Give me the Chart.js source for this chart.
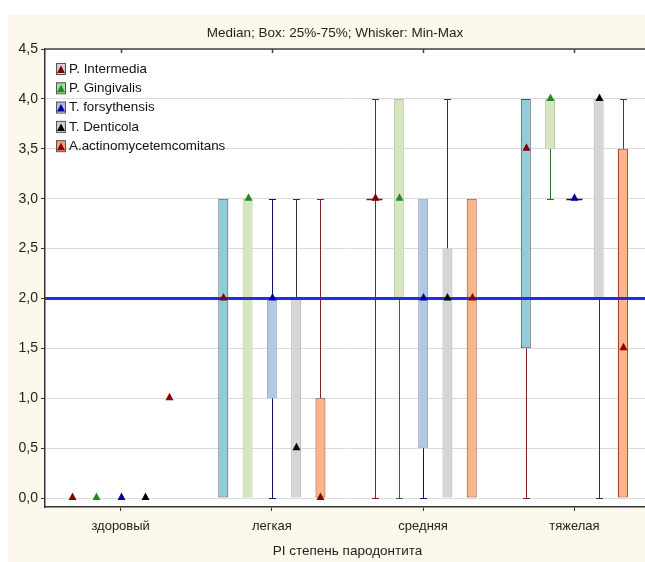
<!DOCTYPE html>
<html>
<head>
<meta charset="utf-8">
<script src="https://cdn.jsdelivr.net/npm/chart.js@4.4.1/dist/chart.umd.min.js"></script>
<style>
    html, body { margin: 0; padding: 0; background: #fff; overflow: hidden; }
    #wrap { position: relative; width: 650px; height: 562px; }
</style>
</head>
<body>
<div id="wrap"><canvas id="box-chart" width="650" height="562"></canvas></div>
<script>
// categories and series
const categories = ['здоровый', 'легкая', 'средняя', 'тяжелая'];
const seriesNames = ['P. Intermedia', 'P. Gingivalis', 'T. forsythensis', 'T. Denticola', 'A.actinomycetemcomitans'];

// P. Intermedia
const piMed = [0, 2, 3, 3.5];
const piQ1  = [0, 0, 3, 1.5];
const piQ3  = [0, 3, 3, 4];
const piMin = [0, 0, 0, 0];
const piMax = [0, 3, 4, 4];
// P. Gingivalis
const pgMed = [0, 3, 3, 4];
const pgQ1  = [0, 0, 2, 3.5];
const pgQ3  = [0, 3, 4, 4];
const pgMin = [0, 0, 0, 3];
const pgMax = [0, 3, 4, 4];
// T. forsythensis
const tfMed = [0, 2, 2, 3];
const tfQ1  = [0, 1, 0.5, 3];
const tfQ3  = [0, 2, 3, 3];
const tfMin = [0, 0, 0, 3];
const tfMax = [0, 3, 3, 3];
// T. Denticola
const tdMed = [0, 0.5, 2, 4];
const tdQ1  = [0, 0, 0, 2];
const tdQ3  = [0, 2, 2.5, 4];
const tdMin = [0, 0, 0, 0];
const tdMax = [0, 3, 4, 4];
// A.actinomycetemcomitans
const aaMed = [1, 0, 2, 1.5];
const aaQ1  = [1, 0, 0, 0];
const aaQ3  = [1, 1, 3, 3.5];
const aaMin = [1, 0, 0, 0];
const aaMax = [1, 3, 3, 4];

const refLine = 2.0;

const FONT = 'Liberation Sans, Arial, sans-serif';
const boxFill    = ['#8ecedb', '#d6e4bf', '#b4c7e2', '#d5d5d5', '#fbb58a'];
const boxBorder  = ['#5e4848', '#b3c79a', '#8ea6ca', '#b3b3b3', '#9c3a1c'];
const whiskerCol = ['#7b1f1f', '#2e6b2e', '#101060', '#333333', '#7a2626'];
const medianCol  = ['#800000', '#1e8c1e', '#0000a0', '#000000', '#8b0000'];
const legendFill = ['#d8ccd2', '#a9dca0', '#a9bde8', '#d0d0d0', '#f5a07a'];

const stats = [
    {med: piMed, q1: piQ1, q3: piQ3, min: piMin, max: piMax},
    {med: pgMed, q1: pgQ1, q3: pgQ3, min: pgMin, max: pgMax},
    {med: tfMed, q1: tfQ1, q3: tfQ3, min: tfMin, max: tfMax},
    {med: tdMed, q1: tdQ1, q3: tdQ3, min: tdMin, max: tdMax},
    {med: aaMed, q1: aaQ1, q3: aaQ3, min: aaMin, max: aaMax}
];

const datasets = stats.map((s, i) => ({
    label: seriesNames[i],
    data: s.q1.map((v, j) => [v, s.q3[j]]),
    backgroundColor: boxFill[i],
    borderColor: boxBorder[i],
    borderWidth: c => (s.q1[c.dataIndex] === s.q3[c.dataIndex] ? 0 : 1),
    borderSkipped: false,
    barPercentage: 0.41,
    categoryPercentage: 0.803
}));

function triangle(ctx, x, y, color){
    ctx.fillStyle = color;
    ctx.beginPath();
    ctx.moveTo(x, y - 5.5);
    ctx.lineTo(x + 4, y + 2);
    ctx.lineTo(x - 4, y + 2);
    ctx.closePath();
    ctx.fill();
}

const boxExtras = {
    id: 'boxExtras',
    beforeDraw(chart){
        const ctx = chart.ctx, a = chart.chartArea;
        ctx.save();
        ctx.fillStyle = '#fcf9ec';
        ctx.fillRect(8, 15, chart.width, chart.height);
        ctx.fillStyle = '#ffffff';
        ctx.fillRect(a.left, a.top, a.right - a.left, a.bottom - a.top);
        ctx.restore();
    },
    beforeDatasetsDraw(chart){
        // whiskers
        const ctx = chart.ctx, y = chart.scales.y;
        ctx.save();
        ctx.lineWidth = 1;
        stats.forEach((s, i) => {
            const meta = chart.getDatasetMeta(i);
            meta.data.forEach((bar, j) => {
                const x = Math.round(bar.x) + 0.5;
                ctx.strokeStyle = whiskerCol[i];
                ctx.beginPath();
                if (s.min[j] < s.q1[j]){
                    const y0 = Math.round(y.getPixelForValue(s.min[j])) + 0.5;
                    ctx.moveTo(x, y0); ctx.lineTo(x, y.getPixelForValue(s.q1[j]));
                    ctx.moveTo(x - 3.5, y0); ctx.lineTo(x + 3.5, y0);
                }
                if (s.max[j] > s.q3[j]){
                    const y1 = Math.round(y.getPixelForValue(s.max[j])) + 0.5;
                    ctx.moveTo(x, y1); ctx.lineTo(x, y.getPixelForValue(s.q3[j]));
                    ctx.moveTo(x - 3.5, y1); ctx.lineTo(x + 3.5, y1);
                }
                ctx.stroke();
            });
        });
        ctx.restore();
    },
    afterDatasetsDraw(chart){
        const ctx = chart.ctx, a = chart.chartArea, y = chart.scales.y, xs = chart.scales.x;
        ctx.save();
        // flat boxes drawn as a short line
        stats.forEach((s, i) => {
            chart.getDatasetMeta(i).data.forEach((bar, j) => {
                if (j > 0 && s.q1[j] === s.q3[j]){
                    const yy = Math.round(y.getPixelForValue(s.q1[j])) + 0.5;
                    ctx.strokeStyle = whiskerCol[i];
                    ctx.lineWidth = 1.5;
                    ctx.beginPath();
                    ctx.moveTo(bar.x - 8, yy); ctx.lineTo(bar.x + 8, yy);
                    ctx.stroke();
                }
            });
        });
        // reference line
        const yr = y.getPixelForValue(refLine);
        ctx.strokeStyle = '#2a2ae6';
        ctx.lineWidth = 3;
        ctx.beginPath();
        ctx.moveTo(a.left, yr); ctx.lineTo(a.right, yr);
        ctx.stroke();
        // medians
        stats.forEach((s, i) => {
            chart.getDatasetMeta(i).data.forEach((bar, j) => {
                triangle(ctx, Math.round(bar.x) + 0.5, y.getPixelForValue(s.med[j]), medianCol[i]);
            });
        });
        // top frame with ticks
        ctx.strokeStyle = '#444';
        ctx.lineWidth = 1.5;
        ctx.beginPath();
        ctx.moveTo(a.left, a.top); ctx.lineTo(a.right, a.top);
        categories.forEach((c, j) => {
            const xx = Math.round(xs.getPixelForValue(j)) + 0.5;
            ctx.moveTo(xx, a.top); ctx.lineTo(xx, a.top + 4);
        });
        ctx.stroke();
        // legend
        ctx.font = '13.4px ' + FONT;
        ctx.textBaseline = 'middle';
        ctx.textAlign = 'left';
        seriesNames.forEach((name, i) => {
            const cy = 68 + i * 19.3;
            ctx.fillStyle = legendFill[i];
            ctx.fillRect(56, cy - 5, 9, 11);
            ctx.strokeStyle = '#555';
            ctx.lineWidth = 1;
            ctx.strokeRect(56.5, cy - 4.5, 9, 11);
            triangle(ctx, 61, cy + 3, medianCol[i]);
            ctx.fillStyle = '#111';
            ctx.fillText(name, 69, cy + 1);
        });
        // title
        ctx.font = '13.5px ' + FONT;
        ctx.fillStyle = '#222';
        ctx.textAlign = 'center';
        ctx.fillText('Median; Box: 25%-75%; Whisker: Min-Max', 335, 33);
        ctx.restore();
    }
};

let boxElement = document.getElementById('box-chart').getContext('2d');
let boxChart = new Chart(boxElement, {
    type: 'bar',
    data: { labels: categories, datasets: datasets },
    options: {
        responsive: false,
        animation: false,
        layout: { padding: { top: 49, left: 0, right: 0, bottom: 0 } },
        plugins: {
            legend: { display: false },
            tooltip: { enabled: false },
            title: { display: false }
        },
        scales: {
            x: {
                type: 'category',
                offset: true,
                grid: { display: true, offset: false, drawOnChartArea: false, tickLength: 4, color: '#333' },
                border: { color: '#333', width: 1.5 },
                ticks: { color: '#222', font: { family: FONT, size: 13 }, padding: 8 },
                title: { display: true, text: 'PI степень пародонтита', color: '#222',
                         font: { family: FONT, size: 13.5 }, padding: { top: 0, bottom: 3 } },
                afterFit(s){ s.height = 55; }
            },
            y: {
                min: -0.09,
                max: 4.5,
                grid: { color: '#dcdcdc', tickLength: 4, tickColor: '#333' },
                border: { color: '#333', width: 1.5 },
                ticks: {
                    stepSize: 0.5,
                    includeBounds: false,
                    color: '#222',
                    font: { family: FONT, size: 14 },
                    padding: 3,
                    callback: v => v.toFixed(1).replace('.', ',')
                },
                afterFit(s){ s.width = 45; }
            }
        }
    },
    plugins: [boxExtras]
});
</script>
</body>
</html>
